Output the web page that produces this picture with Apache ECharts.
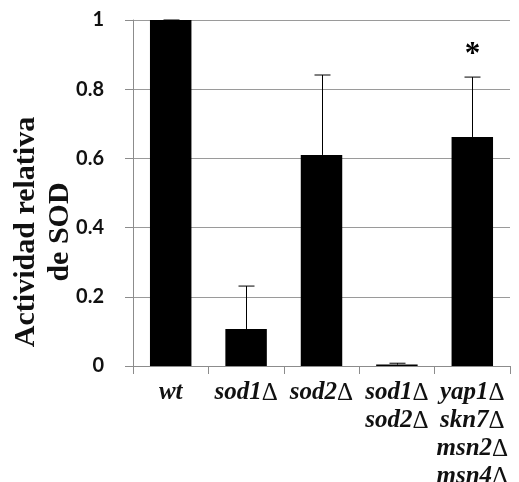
<!DOCTYPE html>
<html>
<head>
<meta charset="utf-8">
<script src="https://cdn.jsdelivr.net/npm/echarts@6/dist/echarts.min.js"></script>
<style>
  html, body { margin: 0; padding: 0; background: #fff; }
  #chart { width: 519px; height: 482px; }
</style>
</head>
<body>
<div id="chart"></div>
<script>
  // strains on the x axis
  const categories = ['wt', 'sod1Δ', 'sod2Δ', 'sod1Δ\nsod2Δ', 'yap1Δ\nskn7Δ\nmsn2Δ\nmsn4Δ']
  // relative SOD activity
  const values = [1.0, 0.107, 0.61, 0.004, 0.662]
  // upper end of the error bars
  const errorTop = [1.0, 0.231, 0.841, 0.008, 0.835]
  // significance marks
  const marks = ['', '', '', '', '*']

  const chart = echarts.init(document.getElementById('chart'))

  const labelFont = {
    fontFamily: 'Liberation Serif',
    fontStyle: 'italic',
    fontWeight: 'bold',
    fontSize: 25,
    lineHeight: 28,
    color: '#111'
  }

  const option = {
    backgroundColor: '#fff',
    animation: false,
    grid: { left: 133, right: 9, top: 20, bottom: 116, outerBoundsMode: 'none', containLabel: false },
    graphic: [
      {
        type: 'text',
        x: 43,
        y: 232,
        rotation: Math.PI / 2,
        style: {
          text: 'Actividad relativa\nde SOD',
          align: 'center',
          verticalAlign: 'middle',
          font: 'bold 30px "Liberation Serif"',
          lineHeight: 34,
          fill: '#111'
        }
      }
    ],
    xAxis: {
      type: 'category',
      data: categories,
      axisLine: { lineStyle: { color: '#8c8c8c', width: 1 } },
      axisTick: { show: true, length: 8, lineStyle: { color: '#8c8c8c' } },
      axisLabel: Object.assign({
        interval: 0,
        margin: 13,
        verticalAlign: 'top',
        formatter: function (v) {
          // the delta is set upright, as in the original figure
          return v.split('\n').map(function (line) {
            return line.replace(/^(.*?)Δ$/, '{s|$1}{d|Δ}').replace(/^([^{].*)$/, '{s|$1}')
          }).join('\n')
        },
        rich: {
          s: labelFont,
          d: {
            fontFamily: 'Liberation Serif',
            fontWeight: 'normal',
            fontStyle: 'normal',
            fontSize: 25,
            lineHeight: 28,
            color: '#111'
          }
        }
      }, labelFont)
    },
    yAxis: {
      type: 'value',
      min: 0,
      max: 1,
      interval: 0.2,
      axisLine: { show: true, lineStyle: { color: '#8c8c8c', width: 1 } },
      axisTick: { show: true, length: 8, lineStyle: { color: '#8c8c8c' } },
      splitLine: { lineStyle: { color: '#9a9a9a', width: 1 } },
      axisLabel: {
        margin: 29,
        fontFamily: 'Lato',
        fontWeight: 'bold',
        fontSize: 20,
        color: '#111',
        formatter: function (v) { return String(+v.toFixed(1)) }
      }
    },
    series: [
      {
        type: 'bar',
        data: values,
        barWidth: '55%',
        itemStyle: { color: '#000' },
        z: 2
      },
      {
        type: 'custom',
        z: 3,
        data: errorTop.map(function (e, i) { return [i, values[i], e] }),
        renderItem: function (params, api) {
          const i = api.value(0)
          const base = api.coord([i, api.value(1)])
          const top = api.coord([i, api.value(2)])
          const x = Math.round(base[0]) + 0.5
          const children = [
            { type: 'line', shape: { x1: x, y1: base[1], x2: x, y2: top[1] }, style: { stroke: '#000', lineWidth: 1 } },
            { type: 'line', shape: { x1: x - 8, y1: top[1], x2: x + 8, y2: top[1] }, style: { stroke: '#000', lineWidth: 1 } }
          ]
          if (marks[params.dataIndex]) {
            children.push({
              type: 'text',
              style: {
                text: marks[params.dataIndex],
                x: x,
                y: top[1] - 7,
                align: 'center',
                verticalAlign: 'bottom',
                font: 'bold 31px "Liberation Serif"',
                fill: '#000'
              }
            })
          }
          return { type: 'group', children: children }
        }
      }
    ]
  }

  chart.setOption(option)
</script>
</body>
</html>
